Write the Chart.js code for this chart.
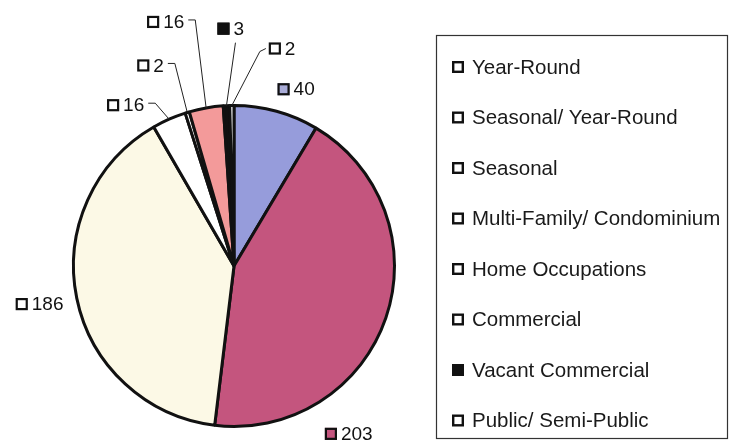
<!DOCTYPE html>
<html lang="en">
<head>
  <meta charset="UTF-8">
  <title>Land Use</title>
  <script src="https://cdn.jsdelivr.net/npm/chart.js"></script>
  <style>
    body { margin: 0; background: #fff; }
    #wrap { width: 738px; height: 443px; }
  </style>
</head>
<body>
  <div id="wrap"><canvas id="grafico" width="738" height="443"></canvas></div>

  <script>
    // data
    const categories = ['Year-Round', 'Seasonal/ Year-Round', 'Seasonal', 'Multi-Family/ Condominium',
      'Home Occupations', 'Commercial', 'Vacant Commercial', 'Public/ Semi-Public'];
    const values = [40, 203, 186, 16, 2, 16, 3, 2];

    // styles
    const sliceColors = ['#969cdb', '#c4557e', '#fcf9e6', '#ffffff', '#ffffff', '#f39a9a', '#111111', '#ffffff'];
    const markerColors = ['#a9acd8', '#c4557e', '#ffffff', '#ffffff', '#ffffff', '#ffffff', '#111111', '#ffffff'];
    const legendMarkerColors = ['#fff', '#fff', '#fff', '#fff', '#fff', '#fff', '#111', '#fff'];
    // label offset from slice edge point (marker left, text middle) and leader style
    const labelOffsets = [[1, -22], [-61, 116], [-61, 6], [-62, -14], [-50, -47], [-59, -86], [-9, -77], [37, -57]];
    const leaderTypes = ['none', 'none', 'none', 'right', 'right', 'right', 'down', 'left'];

    const labelPlugin = {
      id: 'sliceLabels',
      afterDatasetsDraw(chart) {
        const c = chart.ctx;
        const arcs = chart.getDatasetMeta(0).data;
        c.save();
        c.font = '19px "Liberation Sans", Arial, sans-serif';
        c.textBaseline = 'middle';
        arcs.forEach((arc, i) => {
          const mid = (arc.startAngle + arc.endAngle) / 2;
          const ex = arc.x + arc.outerRadius * Math.cos(mid);
          const ey = arc.y + arc.outerRadius * Math.sin(mid);
          const mx = ex + labelOffsets[i][0];
          const my = ey + labelOffsets[i][1];
          // marker
          c.fillStyle = markerColors[i];
          c.fillRect(mx, my - 6, 12, 12);
          c.lineWidth = 2.2;
          c.strokeStyle = '#111';
          c.strokeRect(mx + 1, my - 5, 10, 10);
          const txt = String(values[i]);
          const tx = mx + 16;
          c.fillStyle = '#111';
          c.textAlign = 'left';
          c.fillText(txt, tx, my + 1);
          const tw = c.measureText(txt).width;
          // leader
          c.lineWidth = 1;
          c.strokeStyle = '#222';
          c.beginPath();
          if (leaderTypes[i] === 'right') {
            c.moveTo(tx + tw + 4, my - 2);
            c.lineTo(tx + tw + 11, my - 2);
            c.lineTo(ex, ey);
          } else if (leaderTypes[i] === 'left') {
            c.moveTo(mx - 3, my);
            c.lineTo(mx - 9, my + 3);
            c.lineTo(ex, ey);
          } else if (leaderTypes[i] === 'down') {
            c.moveTo(tx + 2, my + 14);
            c.lineTo(ex, ey);
          }
          c.stroke();
        });
        c.restore();
      }
    };

    const legendPlugin = {
      id: 'boxLegend',
      afterDraw(chart) {
        const c = chart.ctx;
        c.save();
        c.strokeStyle = '#333';
        c.lineWidth = 1.2;
        c.strokeRect(436.5, 35.5, 291, 403);
        c.font = '20.5px "Liberation Sans", Arial, sans-serif';
        c.textBaseline = 'middle';
        categories.forEach((name, i) => {
          const y = 67 + i * 50.5;
          c.fillStyle = legendMarkerColors[i];
          c.fillRect(452, y - 6, 12, 12);
          c.lineWidth = 2.4;
          c.strokeStyle = '#111';
          c.strokeRect(453.2, y - 4.8, 9.6, 9.6);
          c.fillStyle = '#1a1a1a';
          c.fillText(name, 472, y + 1);
        });
        c.restore();
      }
    };

    const ctx = document.getElementById('grafico').getContext('2d');
    const chart = new Chart(ctx, {
      type: 'pie',
      data: {
        labels: categories,
        datasets: [{
          data: values,
          backgroundColor: sliceColors,
          borderColor: '#111',
          borderWidth: 3
        }]
      },
      options: {
        responsive: false,
        animation: false,
        layout: { padding: { left: 72, right: 342, top: 102, bottom: 13 } },
        plugins: {
          legend: { display: false },
          tooltip: { enabled: false }
        }
      },
      plugins: [labelPlugin, legendPlugin]
    });
  </script>
</body>
</html>
